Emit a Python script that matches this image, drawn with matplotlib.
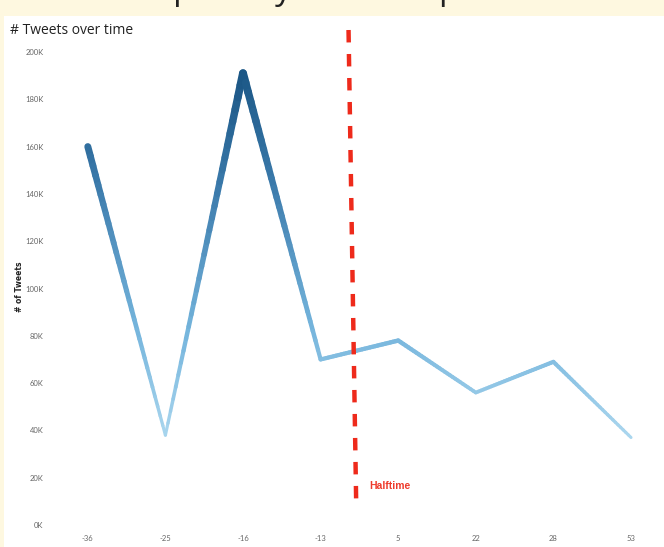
import matplotlib.pyplot as plt
import numpy as np
from matplotlib.collections import LineCollection
from matplotlib.colors import LinearSegmentedColormap

# Data
minutes = ["-36", "-25", "-16", "-13", "5", "22", "28", "53"]
tweets = [160000, 38000, 191000, 70000, 78000, 56000, 69000, 37000]

y_ticks = [0, 20000, 40000, 60000, 80000, 100000, 120000, 140000, 160000, 180000, 200000]
y_tick_labels = ["0K", "20K", "40K", "60K", "80K", "100K", "120K", "140K", "160K", "180K", "200K"]

halftime_top = 3.36     # category position of halftime marker (top / bottom)
halftime_bottom = 3.46

W, H = 664, 547
fig = plt.figure(figsize=(W / 100, H / 100), dpi=100)
fig.patch.set_facecolor("#fef8e0")

# white dashboard panel behind the chart
bg = fig.add_axes([4 / W, 0, 1 - 4 / W, 1 - 16 / H], zorder=-5)
bg.set_facecolor("white")
bg.set_xticks([])
bg.set_yticks([])
for s in bg.spines.values():
    s.set_visible(False)

# cut-off dashboard title (only descenders visible)
fig.text(133 / W, 1 + 1 / H, "Popularity of the Super Bowl", fontsize=24, family="Open Sans",
         color="#222222", ha="left", va="baseline")

ax = fig.add_axes([49 / W, (H - 525) / H, 1 - 49 / W, (525 - 30) / H])
ax.set_facecolor("none")

x = np.arange(len(tweets))
y = np.array(tweets, dtype=float)

cmap = LinearSegmentedColormap.from_list(
    "tabblue", [(0.0, "#aad6ee"), (0.3, "#74b4dc"), (0.7, "#3a79aa"), (1.0, "#1b5685")])
vmin, vmax = min(tweets), max(tweets)

# smooth gradient: split each segment for colour and width
segs, cols, widths = [], [], []
n = 30
for i in range(len(x) - 1):
    t = np.linspace(0, 1, n + 1)
    xs = x[i] + (x[i + 1] - x[i]) * t
    ys = y[i] + (y[i + 1] - y[i]) * t
    for k in range(n):
        segs.append([(xs[k], ys[k]), (xs[k + 1], ys[k + 1])])
        v = ((ys[k] + ys[k + 1]) / 2 - vmin) / (vmax - vmin)
        cols.append(cmap(v))
        widths.append(2.2 + 3.6 * v)
lc = LineCollection(segs, colors=cols, linewidths=widths, capstyle="round", joinstyle="round")
ax.add_collection(lc)

ax.set_xlim(-0.5, 7 + (664 - 631) / 77.6)
ax.set_ylim(0, 200000 * (525 - 30) / 473)

# halftime marker
ax.plot([halftime_top, halftime_bottom], [ax.get_ylim()[1], 6500], color="#ee2a1b",
        lw=3.2, dashes=(2.8, 2.6), clip_on=False, solid_capstyle="butt")
ax.text(3.63, 16500, "Halftime", color="#ee3b2c", fontsize=7.5, fontweight="bold",
        family="Liberation Sans", ha="left", va="center")

ax.set_xticks(x)
ax.set_xticklabels(minutes)
ax.set_yticks(y_ticks)
ax.set_yticklabels(y_tick_labels)
ax.tick_params(length=0, labelsize=5.5, labelcolor="#666666")
ax.tick_params(axis="x", pad=7)
ax.tick_params(axis="y", pad=4)
for lab in ax.get_xticklabels() + ax.get_yticklabels():
    lab.set_family("Lato")
for s in ax.spines.values():
    s.set_visible(False)

fig.text(10 / W, 1 - 30 / H, "# Tweets over time", fontsize=10, family="Open Sans",
         color="#222222", ha="left", va="center")
fig.text(20 / W, 1 - 287 / H, "# of Tweets", fontsize=5.5, family="DejaVu Sans",
         fontweight="bold", color="#222222", rotation=90, ha="center", va="center")

fig.savefig("out.png", dpi=100, facecolor=fig.get_facecolor())
